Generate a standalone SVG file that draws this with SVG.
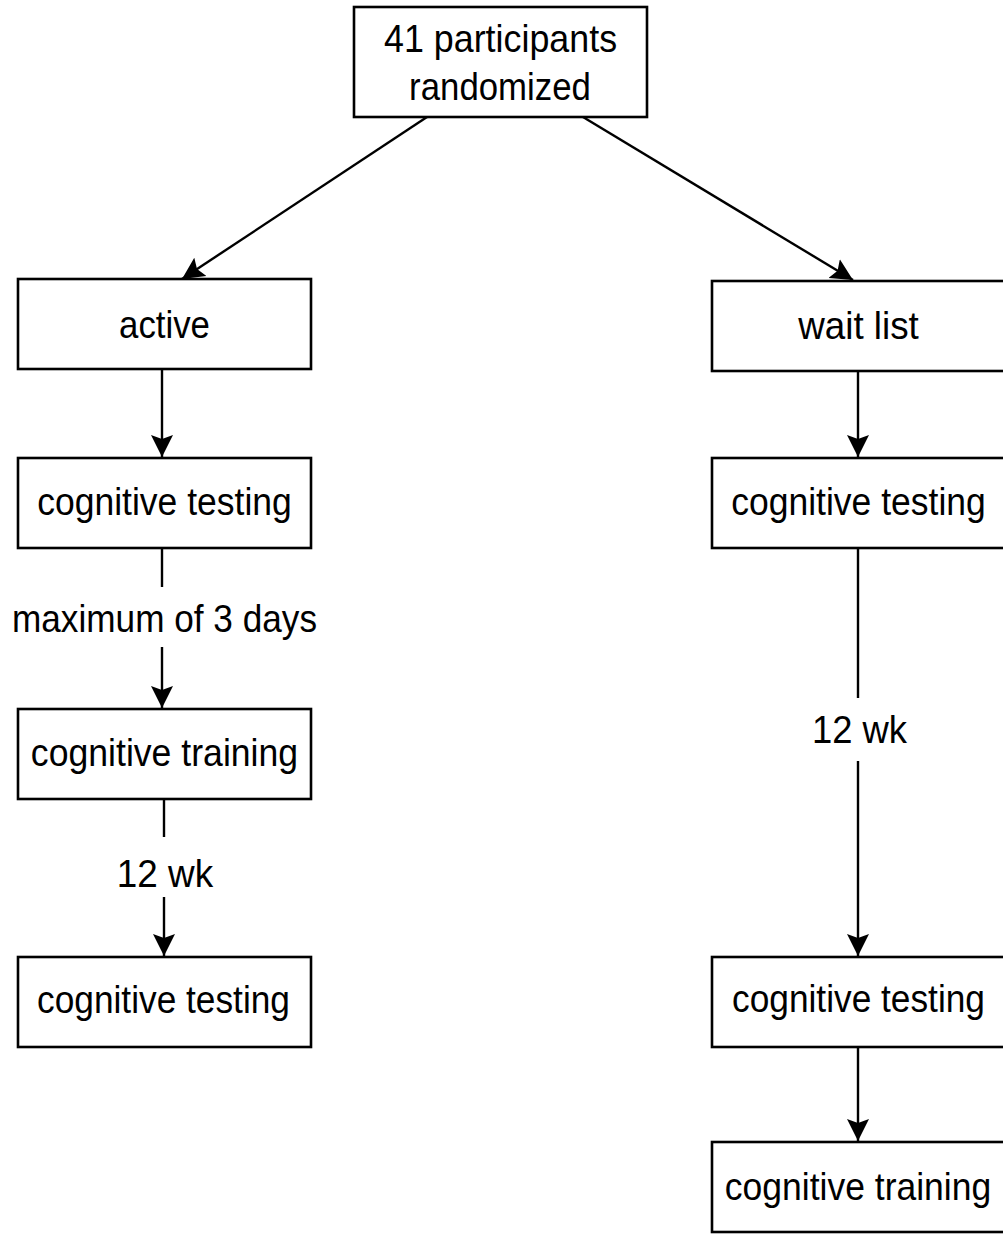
<svg xmlns="http://www.w3.org/2000/svg" width="1003" height="1234" viewBox="0 0 1003 1234">
<style>
.box{fill:#fff;stroke:#000;stroke-width:2.6}
.t{font-family:"Liberation Sans",Arial,sans-serif;font-size:39px;fill:#000;text-anchor:middle}
.c{stroke:#000;stroke-width:2.4;fill:none}
</style>
<defs>
<marker id="ah" markerUnits="userSpaceOnUse" markerWidth="24" markerHeight="24" viewBox="0 0 24 24" refX="22" refY="12" orient="auto">
<path d="M0,1 L22,12 L0,23 L4,12 Z" fill="#000"/>
</marker>
</defs>
<g id="connectors">
<line class="c" x1="427" y1="117" x2="182" y2="279" marker-end="url(#ah)"/>
<line class="c" x1="583" y1="117" x2="853" y2="280" marker-end="url(#ah)"/>
<line class="c" x1="162" y1="369" x2="162" y2="457" marker-end="url(#ah)"/>
<line class="c" x1="162" y1="548" x2="162" y2="587"/>
<line class="c" x1="162" y1="647" x2="162" y2="708" marker-end="url(#ah)"/>
<line class="c" x1="164" y1="799" x2="164" y2="837"/>
<line class="c" x1="164" y1="897" x2="164" y2="956" marker-end="url(#ah)"/>
<line class="c" x1="858" y1="371" x2="858" y2="457" marker-end="url(#ah)"/>
<line class="c" x1="858" y1="548" x2="858" y2="698"/>
<line class="c" x1="858" y1="761" x2="858" y2="956" marker-end="url(#ah)"/>
<line class="c" x1="858" y1="1047" x2="858" y2="1141" marker-end="url(#ah)"/>
<text class="t" transform="translate(164.5,632) scale(0.9,1)" textLength="339" lengthAdjust="spacingAndGlyphs">maximum of 3 days</text>
<text class="t" transform="translate(165,887) scale(0.9,1)" textLength="107" lengthAdjust="spacingAndGlyphs">12 wk</text>
<text class="t" x="859.5" y="743" textLength="95" lengthAdjust="spacingAndGlyphs">12 wk</text>
</g>
<g id="n-top">
<rect class="box" x="354" y="7" width="293" height="110"/>
<text class="t" transform="translate(500.5,52) scale(0.9,1)" textLength="259" lengthAdjust="spacingAndGlyphs">41 participants</text>
<text class="t" transform="translate(500,100) scale(0.9,1)" textLength="202" lengthAdjust="spacingAndGlyphs">randomized</text>
</g>
<g id="n-active">
<rect class="box" x="18" y="279" width="293" height="90"/>
<text class="t" transform="translate(164.5,338) scale(0.9,1)" textLength="101" lengthAdjust="spacingAndGlyphs">active</text>
</g>
<g id="n-waitlist">
<rect class="box" x="712" y="281" width="295" height="90"/>
<text class="t" transform="translate(858.5,339) scale(0.9,1)" textLength="134" lengthAdjust="spacingAndGlyphs">wait list</text>
</g>
<g id="n-left-test1">
<rect class="box" x="18" y="458" width="293" height="90"/>
<text class="t" transform="translate(164.5,515) scale(0.9,1)" textLength="283" lengthAdjust="spacingAndGlyphs">cognitive testing</text>
</g>
<g id="n-left-train">
<rect class="box" x="18" y="709" width="293" height="90"/>
<text class="t" transform="translate(164.5,766) scale(0.9,1)" textLength="297" lengthAdjust="spacingAndGlyphs">cognitive training</text>
</g>
<g id="n-left-test2">
<rect class="box" x="18" y="957" width="293" height="90"/>
<text class="t" transform="translate(163.5,1013) scale(0.9,1)" textLength="281" lengthAdjust="spacingAndGlyphs">cognitive testing</text>
</g>
<g id="n-right-test1">
<rect class="box" x="712" y="458" width="295" height="90"/>
<text class="t" transform="translate(858.5,515) scale(0.9,1)" textLength="283" lengthAdjust="spacingAndGlyphs">cognitive testing</text>
</g>
<g id="n-right-test2">
<rect class="box" x="712" y="957" width="295" height="90"/>
<text class="t" transform="translate(858.5,1012) scale(0.9,1)" textLength="281" lengthAdjust="spacingAndGlyphs">cognitive testing</text>
</g>
<g id="n-right-train">
<rect class="box" x="712" y="1142" width="295" height="90"/>
<text class="t" transform="translate(858,1200) scale(0.9,1)" textLength="296" lengthAdjust="spacingAndGlyphs">cognitive training</text>
</g>
</svg>
